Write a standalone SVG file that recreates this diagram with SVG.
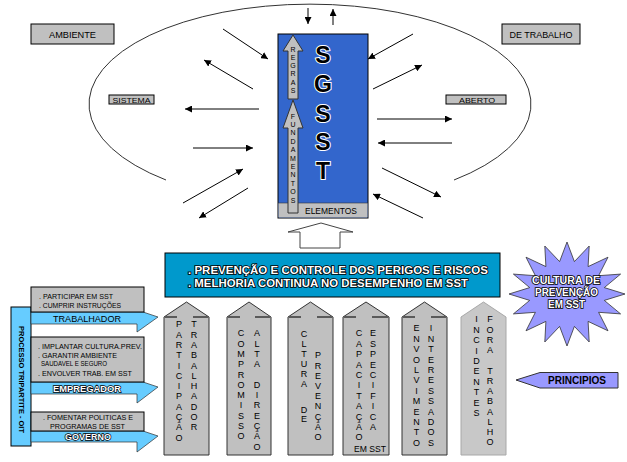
<svg xmlns="http://www.w3.org/2000/svg" width="627" height="462" viewBox="0 0 627 462">
<style>
text{font-family:"Liberation Sans",Arial,sans-serif;}
.box{fill:#C0C0C0;stroke:#000;stroke-width:1;}
.lab{font-size:9px;text-anchor:middle;fill:#000;}
.sm{font-size:7px;fill:#000;}
.col{fill:#C0C0C0;stroke:#333;stroke-width:1;}
.col6{fill:#C8C8C8;stroke:#A8A8A8;stroke-width:1;}
.dash{stroke:#5A5A5A;stroke-width:2;}
.ct{font-size:9px;text-anchor:middle;fill:#000;}
.ln{stroke:#000;stroke-width:1;fill:none;marker-end:url(#ah);}
.barrow{fill:#66CCFF;stroke:#2F2F2F;stroke-width:0.7;}
.wt{fill:#fff;stroke:#000;stroke-width:1.6;paint-order:stroke;font-weight:bold;}
.big{font-size:23px;font-weight:bold;text-anchor:middle;fill:#000;stroke:#fff;stroke-width:2;paint-order:stroke;}
.gar{fill:#C0C0C0;stroke:#333;stroke-width:1;}
.tiny{font-size:7px;text-anchor:middle;fill:#000;}
</style>
<defs>
<marker id="ah" viewBox="0 0 10 10" refX="10" refY="5" markerWidth="7" markerHeight="7" markerUnits="userSpaceOnUse" orient="auto">
<path d="M0,0 L10,5 L0,10 Z" fill="#000"/>
</marker>
</defs>
<rect width="627" height="462" fill="#fff"/>

<g id="ambiente-ring">
<path d="M166,180 A221,100 0 1 1 454,180" fill="none" stroke="#333" stroke-width="1"/>
</g>

<g id="connectors">
<line class="ln" x1="308" y1="8" x2="308" y2="24"/>
<line class="ln" x1="333" y1="25" x2="333" y2="9"/>
<line class="ln" x1="223" y1="29" x2="268" y2="59"/>
<line class="ln" x1="253" y1="89" x2="204" y2="60"/>
<line class="ln" x1="259" y1="109" x2="185" y2="109"/>
<line class="ln" x1="193" y1="148" x2="253" y2="148"/>
<line class="ln" x1="183" y1="203" x2="243" y2="169"/>
<line class="ln" x1="248" y1="188" x2="199" y2="218"/>
<line class="ln" x1="413" y1="34" x2="368" y2="59"/>
<line class="ln" x1="373" y1="89" x2="422" y2="65"/>
<line class="ln" x1="377" y1="119" x2="452" y2="119"/>
<line class="ln" x1="452" y1="143" x2="378" y2="143"/>
<line class="ln" x1="382" y1="168" x2="441" y2="197"/>
<line class="ln" x1="423" y1="218" x2="373" y2="194"/>
<polygon id="up-arrow" points="321,223 353,232 340,232 340,248 300,248 300,232 288,232" fill="#fff" stroke="#444" stroke-width="1"/>
</g>

<g id="ambiente">
<rect class="box" x="31" y="24" width="83" height="20"/>
<text class="lab" x="72.5" y="37.5" textLength="47" lengthAdjust="spacingAndGlyphs">AMBIENTE</text>
</g>
<g id="de-trabalho">
<rect class="box" x="502" y="24" width="78" height="20"/>
<text class="lab" x="541" y="37.5" textLength="63" lengthAdjust="spacingAndGlyphs">DE TRABALHO</text>
</g>
<g id="sistema">
<rect class="box" x="109" y="95" width="45" height="9"/>
<text class="lab" x="131.5" y="102.8" style="font-size:8px" textLength="38" lengthAdjust="spacingAndGlyphs">SISTEMA</text>
</g>
<g id="aberto">
<rect class="box" x="446" y="95" width="60" height="9"/>
<text class="lab" x="477" y="102.8" style="font-size:8px" textLength="36" lengthAdjust="spacingAndGlyphs">ABERTO</text>
</g>

<g id="sgsst">
<rect x="278" y="34" width="90" height="184" fill="#3366CC" stroke="#000" stroke-width="1"/>
<rect x="278.5" y="203" width="89" height="14.5" fill="#C0C0C0"/>
<line x1="278" y1="203" x2="368" y2="203" stroke="#333" stroke-width="0.6"/>
<text class="lab" x="331" y="213.5" textLength="52" lengthAdjust="spacingAndGlyphs">ELEMENTOS</text>
<polygon class="gar" points="293,35 303,51 298,51 298,99 288,99 288,51 283,51"/>
<polygon class="gar" points="293,100 303,128 298,128 298,213 288,213 288,128 283,128"/>
<text class="tiny" x="293 293 293 293 293 293" y="51.5 59.8 68.1 76.4 84.7 93">REGRAS</text>
<text class="tiny" x="293 293 293 293 293 293 293 293 293 293 293" y="118.5 126.9 135.3 143.7 152.1 160.5 168.9 177.3 185.7 194.1 202.5">FUNDAMENTOS</text>
<text class="big" x="323" y="63">S</text>
<text class="big" x="323" y="92">G</text>
<text class="big" x="323" y="122">S</text>
<text class="big" x="323" y="150">S</text>
<text class="big" x="323" y="179">T</text>
</g>

<g id="objetivos">
<rect x="165" y="253" width="335" height="44" fill="#0099CC" stroke="#000" stroke-width="1"/>
<text class="wt" x="188" y="273.5" style="font-size:10px" textLength="300" lengthAdjust="spacingAndGlyphs">. PREVENÇÃO  E  CONTROLE DOS PERIGOS E RISCOS</text>
<text class="wt" x="188" y="286.5" style="font-size:10px" textLength="280" lengthAdjust="spacingAndGlyphs">. MELHORIA CONTINUA  NO  DESEMPENHO EM SST</text>
</g>

<g id="cultura">
<polygon points="567,242 574.4,261.6 589.2,246 588.1,266.6 608,257.2 598.6,275.7 620.6,274.1 604.3,287.6 625,294 604.3,300.4 620.6,313.9 598.6,312.3 608,330.8 588.1,321.4 589.2,342 574.4,326.4 567,346 559.6,326.4 544.8,342 545.9,321.4 526,330.8 535.4,312.3 513.4,313.9 529.7,300.4 509,294 529.7,287.6 513.4,274.1 535.4,275.7 526,257.2 545.9,266.6 544.8,246 559.6,261.6" fill="#9999FF" stroke="#333" stroke-width="0.8"/>
<text class="wt" x="566" y="284" style="font-size:10px" text-anchor="middle" textLength="68" lengthAdjust="spacingAndGlyphs">CULTURA DE</text>
<text class="wt" x="566.5" y="296" style="font-size:10px" text-anchor="middle" textLength="63" lengthAdjust="spacingAndGlyphs">PREVENÇÃO</text>
<text class="wt" x="566.5" y="308" style="font-size:10px" text-anchor="middle" textLength="37" lengthAdjust="spacingAndGlyphs">EM SST</text>
</g>

<g id="principios">
<polygon points="516,380 540,372.5 618,372.5 618,388 540,388" fill="#9999FF" stroke="#333" stroke-width="1"/>
<text x="577" y="384" style="font-size:10px;font-weight:bold" text-anchor="middle" textLength="58" lengthAdjust="spacingAndGlyphs">PRINCIPIOS</text>
</g>

<g id="processo-tripartite">
<rect x="11" y="307" width="20" height="139" fill="#66CCFF" stroke="#000" stroke-width="1"/>
<text transform="translate(18.5,379.5) rotate(90)" x="0" y="0" style="font-size:8px;font-weight:bold" text-anchor="middle" textLength="107" lengthAdjust="spacingAndGlyphs">PROCESSO  TRIPARTITE - OIT</text>
</g>

<g id="trabalhador">
<polygon class="barrow" points="31,312 143,312 158,317 137,332 137,324 31,324"/>
<rect class="box" x="31" y="287" width="113" height="25"/>
<text class="sm" x="39" y="298.5" textLength="74" lengthAdjust="spacingAndGlyphs">. PARTICIPAR EM SST</text>
<text class="sm" x="39" y="307.5" textLength="82" lengthAdjust="spacingAndGlyphs">. CUMPRIR INSTRUÇÕES</text>
<text x="87" y="321.7" style="font-size:9px" text-anchor="middle" textLength="68" lengthAdjust="spacingAndGlyphs">TRABALHADOR</text>
</g>

<g id="empregador">
<polygon class="barrow" points="31,382 143,382 158,387 137,403 137,394 31,394"/>
<rect class="box" x="31" y="337" width="113" height="45"/>
<text class="sm" x="38" y="348.5" textLength="104" lengthAdjust="spacingAndGlyphs">. IMPLANTAR CULTURA.PREV.</text>
<text class="sm" x="38" y="357.5" textLength="79" lengthAdjust="spacingAndGlyphs">. GARANTIR AMBIENTE</text>
<text class="sm" x="41" y="365.5" textLength="66" lengthAdjust="spacingAndGlyphs">SAUDAVEL E SEGURO</text>
<text class="sm" x="38" y="375.5" textLength="94" lengthAdjust="spacingAndGlyphs">. ENVOLVER TRAB. EM SST</text>
<text class="wt" x="87" y="391.5" style="font-size:9px;stroke-width:1.3" text-anchor="middle" textLength="68" lengthAdjust="spacingAndGlyphs">EMPREGADOR</text>
</g>

<g id="governo">
<polygon class="barrow" points="31,431 143,431 158,436 137,452 137,442 31,442"/>
<rect class="box" x="31" y="412" width="113" height="19"/>
<text class="sm" x="43" y="419.5" textLength="90" lengthAdjust="spacingAndGlyphs">. FOMENTAR POLITICAS E</text>
<text class="sm" x="50" y="429" textLength="75" lengthAdjust="spacingAndGlyphs">PROGRAMAS DE SST</text>
<text class="wt" x="88" y="440.3" style="font-size:9px;stroke-width:1.3" text-anchor="middle" textLength="46" lengthAdjust="spacingAndGlyphs">GOVERNO</text>
</g>

<g id="col-participacao">
<path class="col" d="M164,317 L186.5,302 L209,317 L209,455 L164,455 Z"/>
<line class="dash" x1="165" y1="317" x2="177" y2="317"/><line class="dash" x1="193" y1="317" x2="208" y2="317"/>
<text class="ct" x="179 179 179 179 179 179 179 179 179 179 179 179" y="327.3 337.6 347.9 358.2 368.5 378.8 389.1 399.4 409.7 420 430.3 440.6">PARTICIPAÇÃO</text>
<text class="ct" x="194 194 194 194 194 194 194 194 194 194 194" y="327.3 337.6 347.9 358.2 368.5 378.8 389.1 399.4 409.7 420 430.3">TRABALHADOR</text>
</g>

<g id="col-compromisso">
<path class="col" d="M227,317 L249,302 L271,317 L271,455 L227,455 Z"/>
<line class="dash" x1="228" y1="317" x2="240" y2="317"/><line class="dash" x1="255" y1="317" x2="270" y2="317"/>
<text class="ct" x="241 241 241 241 241 241 241 241 241 241 241" y="336.3 346.6 356.9 367.2 377.5 387.8 398.1 408.4 418.7 429 439.3">COMPROMISSO</text>
<text class="ct" x="257 257 257 257 257 257 257 257 257 257 257 257" y="336.3 346.6 356.9 367.2 377.5 387.8 398.1 408.4 418.7 429 439.3 449.6">ALTA DIREÇÃO</text>
</g>

<g id="col-cultura">
<path class="col" d="M288,317 L310.5,302 L333,317 L333,455 L288,455 Z"/>
<line class="dash" x1="289" y1="317" x2="301" y2="317"/><line class="dash" x1="317" y1="317" x2="332" y2="317"/>
<text class="ct" x="304 304 304 304 304 304 304 304 304" y="337.3 347.3 357.3 367.3 377.3 387.3 400 413.3 422.3">CLTURA DE</text>
<text class="ct" x="318 318 318 318 318 318 318 318 318" y="358.3 368.5 378.7 388.9 399.1 409.3 419.5 429.7 439.9">PREVENÇÃO</text>
</g>

<g id="col-capacitacao">
<path class="col" d="M343,317 L366,302 L389,317 L389,455 L343,455 Z"/>
<line class="dash" x1="344" y1="317" x2="356" y2="317"/><line class="dash" x1="372" y1="317" x2="388" y2="317"/>
<text class="ct" x="359 359 359 359 359 359 359 359 359 359 359" y="336.3 346.7 357.1 367.5 377.9 388.3 398.7 409.1 419.5 429.9 440.3">CAPACITAÇÃO</text>
<text class="ct" x="373 373 373 373 373 373 373 373 373 373" y="336.3 346.7 357.1 367.5 377.9 388.3 398.7 409.1 419.5 429.9">ESPECIFICA</text>
<text x="370" y="452.3" style="font-size:9px" text-anchor="middle" textLength="32" lengthAdjust="spacingAndGlyphs">EM SST</text>
</g>

<g id="col-envolvimento">
<path class="col" d="M402,317 L424.5,302 L447,317 L447,455 L402,455 Z"/>
<line class="dash" x1="403" y1="317" x2="415" y2="317"/><line class="dash" x1="431" y1="317" x2="446" y2="317"/>
<text class="ct" x="416.5 416.5 416.5 416.5 416.5 416.5 416.5 416.5 416.5 416.5 416.5 416.5" y="331.3 341.7 352.1 362.5 372.9 383.3 393.7 404.1 414.5 424.9 435.3 445.7">ENVOLVIMENTO</text>
<text class="ct" x="431 431 431 431 431 431 431 431 431 431 431 431" y="331.3 341.7 352.1 362.5 372.9 383.3 393.7 404.1 414.5 424.9 435.3 445.7">INTERESSADOS</text>
</g>

<g id="col-incidentes">
<path class="col6" d="M461,317 L483.5,302 L506,317 L506,455 L461,455 Z"/>
<text class="ct" x="476.5 476.5 476.5 476.5 476.5 476.5 476.5 476.5 476.5 476.5" y="322.3 332.7 343.1 353.5 363.9 374.3 384.7 395.1 405.5 415.9">INCIDENTES</text>
<text class="ct" x="490 490 490 490 490 490 490 490 490 490 490 490 490" y="322.3 332.6 342.8 353.1 363.3 373.6 383.8 394.1 404.3 414.6 424.8 435.1 445.3">FORA TRABALHO</text>
</g>
</svg>
